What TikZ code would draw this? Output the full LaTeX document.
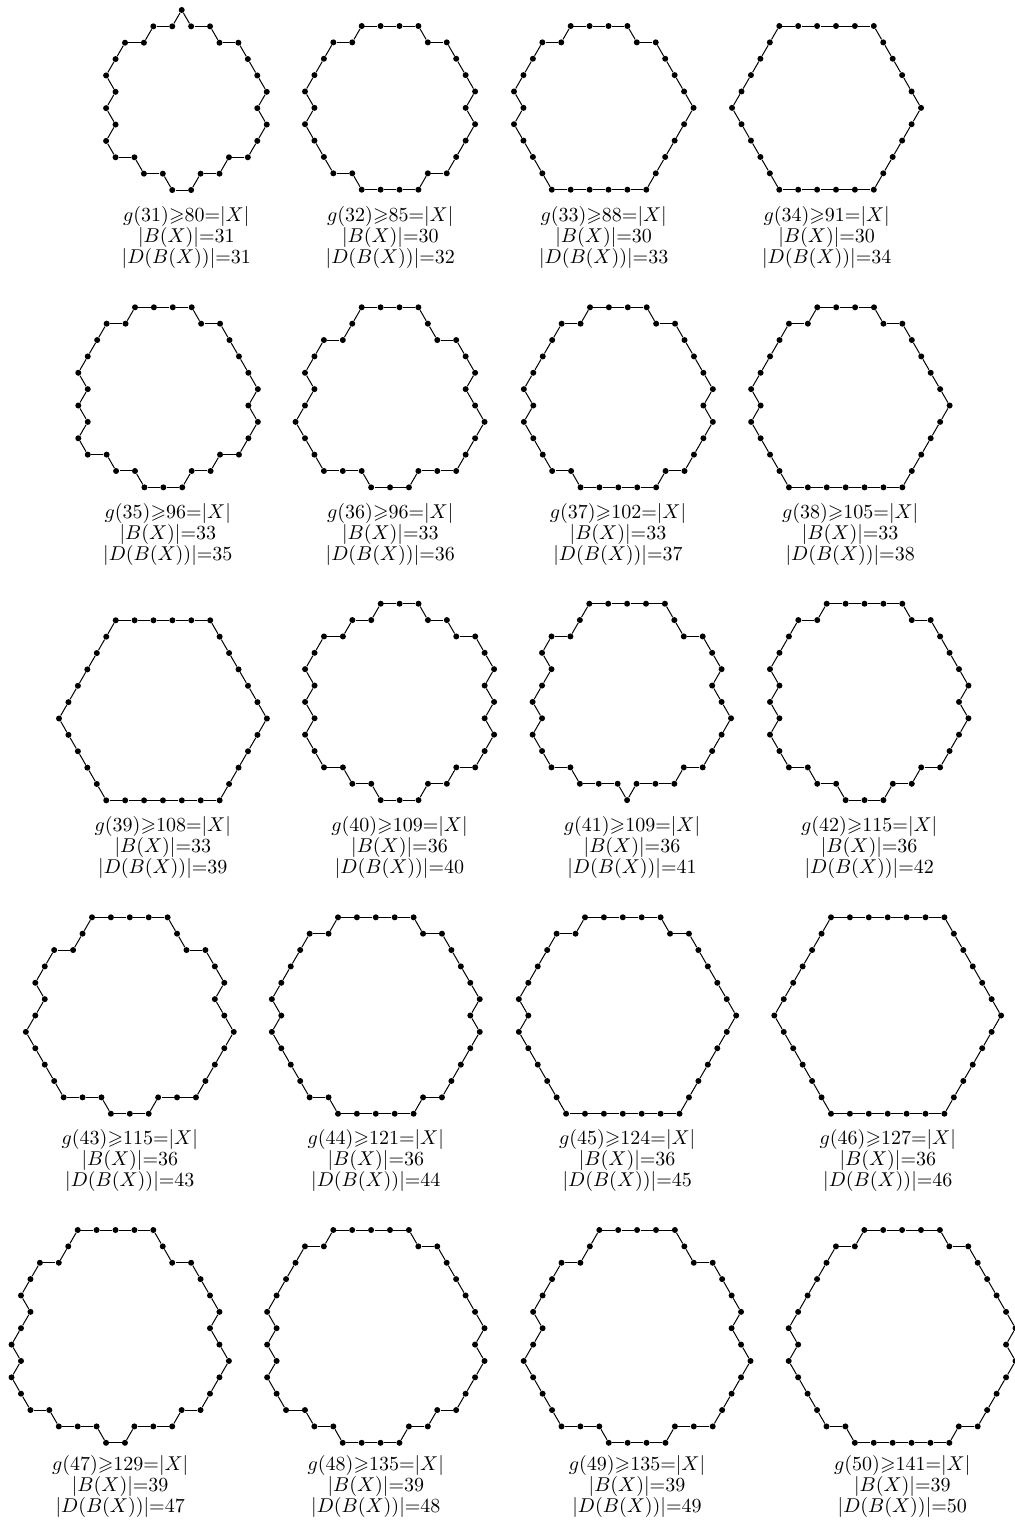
\documentclass[tikz,border=0pt]{standalone}
\usepackage{amssymb}
\usetikzlibrary{calc}
\tikzset{
  dotnode/.style={circle,fill=black,draw=none,inner sep=0pt,minimum size=3pt},
  edge/.style={line width=0.5pt,black},
  lab/.style={anchor=base,inner sep=0pt,font=\fontsize{10}{12}\selectfont}
}
\newcommand\lu{18.9}
% #1 name, #2 x, #3 y (pixels, downwards), #4 list of step directions (k*60 deg)
\newcommand\lattshape[4]{%
  \coordinate (#1-0) at (#2,-#3);
  \foreach \d [count=\i] in {#4} {
    \pgfmathtruncatemacro\j{\i-1}
    \node[dotnode] (#1-\i) at ($(#1-\j)+(\d*60:\lu)$) {};
    \draw[edge] (#1-\j) -- (#1-\i);
  }
}
% #1 name, #2 x, #3 baseline y, #4 n, #5 bound, #6 |B|, #7 |D|
\newcommand\shapelabel[7]{%
  \node[lab] (#1a) at (#2,-#3) {$g(#4){\geqslant}#5{=}|X|$};
  \node[lab] (#1b) at (#2,-#3-21) {$|B(X)|{=}#6$};
  \node[lab] (#1c) at (#2,-#3-42) {$|D(B(X))|{=}#7$};
}
\begin{document}
\begin{tikzpicture}[x=0.5pt,y=0.5pt]
\useasboundingbox (0,0) rectangle (1015,-1528);
% Row 1
\lattshape{s1}{125}{42.7}{0,1,0,1,5,0,5,0,5,5,5,4,5,4,4,3,4,3,4,3,2,3,2,3,2,1,2,1,2,1,1}
\shapelabel{l1}{186.3}{221}{31}{80}{31}{31}
\lattshape{s2}{361.7}{26}{0,0,0,5,0,5,5,5,4,5,4,4,4,3,4,3,3,3,2,3,2,2,2,1,2,1,1,1,0,1}
\shapelabel{l2}{390.3}{221}{32}{85}{30}{32}
\lattshape{s3}{570.7}{26}{0,0,0,5,0,5,5,5,5,4,4,4,4,4,3,3,3,3,3,2,2,2,2,1,2,1,1,1,0,1}
\shapelabel{l3}{603.7}{221}{33}{88}{30}{33}
\lattshape{s4}{779.3}{26}{0,0,0,0,0,5,5,5,5,5,4,4,4,4,4,3,3,3,3,3,2,2,2,2,2,1,1,1,1,1}
\shapelabel{l4}{826.7}{221}{34}{91}{30}{34}
% Row 2
\lattshape{s5}{135}{307.3}{0,0,0,5,0,5,5,5,5,4,5,4,4,3,4,3,4,3,3,2,3,2,3,2,1,2,1,2,1,1,1,0,1}
\shapelabel{l5}{167.8}{518}{35}{96}{33}{35}
\lattshape{s6}{361.7}{307.3}{0,0,0,5,5,0,5,5,4,5,5,4,4,4,3,3,4,3,3,2,3,3,2,2,2,1,1,2,1,1,0,1,1}
\shapelabel{l6}{390.3}{518}{36}{96}{33}{36}
\lattshape{s7}{590}{307.3}{0,0,0,5,0,5,5,5,5,4,5,4,4,4,3,4,3,3,3,3,2,3,2,2,2,1,2,1,1,1,1,0,1}
\shapelabel{l7}{618}{518}{37}{102}{33}{37}
\lattshape{s8}{817.3}{307.3}{0,0,0,5,0,5,5,5,5,5,4,4,4,4,4,3,3,3,3,3,3,2,2,2,2,1,2,1,1,1,1,0,1}
\shapelabel{l8}{850.2}{518}{38}{105}{33}{38}
% Row 3
\lattshape{s9}{115.7}{620.3}{0,0,0,0,0,5,5,5,5,5,5,4,4,4,4,4,3,3,3,3,3,3,2,2,2,2,2,1,1,1,1,1,1}
\shapelabel{l9}{162.8}{831}{39}{108}{33}{39}
\lattshape{s10}{380.7}{603.7}{0,0,5,0,5,0,5,5,4,5,4,5,4,4,3,4,3,4,3,3,2,3,2,3,2,2,1,2,1,2,1,1,0,1,0,1}
\shapelabel{l10}{399.5}{831}{40}{109}{36}{40}
\lattshape{s11}{589.3}{603.7}{0,0,0,0,5,5,0,5,5,4,5,5,4,4,4,3,4,3,3,4,2,3,3,2,3,2,2,1,2,1,1,2,1,0,1,1}
\shapelabel{l11}{632}{831}{41}{109}{36}{41}
\lattshape{s12}{826.7}{603.7}{0,0,0,0,5,0,5,5,5,5,4,5,4,4,4,3,4,3,4,3,3,2,3,2,3,2,2,1,2,1,2,1,1,1,0,1}
\shapelabel{l12}{869.2}{831}{42}{115}{36}{42}
% Row 4
\lattshape{s13}{92}{917.3}{0,0,0,0,5,5,0,5,5,4,5,5,4,4,4,4,3,3,4,3,3,2,3,3,2,2,2,2,1,1,2,1,1,0,1,1}
\shapelabel{l13}{129.8}{1144}{43}{115}{36}{43}
\lattshape{s14}{338}{917.3}{0,0,0,0,5,0,5,5,5,5,4,5,4,4,4,4,3,4,3,3,3,3,2,3,2,2,2,2,1,2,1,1,1,1,0,1}
\shapelabel{l14}{375.8}{1144}{44}{121}{36}{44}
\lattshape{s15}{585}{917.3}{0,0,0,0,5,0,5,5,5,5,5,4,4,4,4,4,4,3,3,3,3,3,3,2,2,2,2,2,1,2,1,1,1,1,0,1}
\shapelabel{l15}{627.2}{1144}{45}{124}{36}{45}
\lattshape{s16}{831}{917.3}{0,0,0,0,0,0,5,5,5,5,5,5,4,4,4,4,4,4,3,3,3,3,3,3,2,2,2,2,2,2,1,1,1,1,1,1}
\shapelabel{l16}{887.8}{1144}{46}{127}{36}{46}
% Row 5
\lattshape{s17}{77.7}{1230}{0,0,0,0,5,5,0,5,5,5,4,5,5,4,4,4,3,4,3,3,4,3,2,3,3,2,3,2,2,1,2,1,1,2,1,1,0,1,1}
\shapelabel{l17}{120.2}{1470}{47}{129}{39}{47}
\lattshape{s18}{333.3}{1230}{0,0,0,0,5,0,5,5,5,5,5,4,5,4,4,4,3,4,3,4,3,3,3,2,3,2,3,2,2,1,2,1,2,1,1,1,1,0,1}
\shapelabel{l18}{375.8}{1470}{48}{135}{39}{48}
\lattshape{s19}{599.3}{1230}{0,0,0,0,5,5,0,5,5,5,4,5,5,4,4,4,4,3,3,4,3,3,3,2,3,3,2,2,2,2,1,1,2,1,1,1,0,1,1}
\shapelabel{l19}{637}{1470}{49}{135}{39}{49}
\lattshape{s20}{864.3}{1230}{0,0,0,0,5,0,5,5,5,5,5,4,5,4,4,4,4,3,4,3,3,3,3,3,2,3,2,2,2,2,1,2,1,1,1,1,1,0,1}
\shapelabel{l20}{902.3}{1470}{50}{141}{39}{50}
\end{tikzpicture}
\end{document}
